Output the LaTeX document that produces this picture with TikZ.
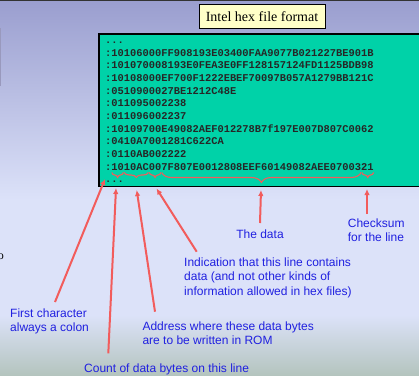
\documentclass[tikz,border=0pt]{standalone}
\usepackage{fontspec}
\setmainfont{Liberation Serif}
\setsansfont{Liberation Sans}
\setmonofont{Liberation Mono}
\usetikzlibrary{arrows.meta, decorations.pathreplacing}

\definecolor{bgtop}{HTML}{9A9ECF}
\definecolor{bgmid}{HTML}{DCE2F9}
\definecolor{bgbot}{HTML}{B4C4BE}
\definecolor{hexgreen}{HTML}{00D2A8}
\definecolor{titlefill}{HTML}{FFFFC8}
\definecolor{arrowred}{HTML}{F25C5C}
\definecolor{noteblue}{HTML}{2020E0}

\newcommand{\hexfont}{\ttfamily\bfseries\fontsize{10.4}{12.67}\selectfont}
\newcommand{\notefont}{\sffamily\fontsize{12}{14.5}\selectfont}

\tikzset{
  hexline/.style={anchor=base west, inner sep=0pt, font=\hexfont, text=black!85},
  note/.style={anchor=north west, inner sep=0pt, align=left, font=\notefont, text=noteblue},
  pointer/.style={-{Latex[length=6pt,width=5.5pt]}, line width=2pt, draw=arrowred},
  bracket/.style={decorate, decoration={brace, mirror, amplitude=#1}, line width=1.1pt, draw=arrowred},
  bracket/.default=5pt,
}

\begin{document}
\begin{tikzpicture}[x=1pt, y=-1pt]
      \useasboundingbox (0,0) rectangle (419,375);
      \shade[top color=bgtop, bottom color=bgmid] (0,0) rectangle (419,200);
      \fill[bgmid] (0,200) rectangle (419,315);
      \shade[top color=bgmid, bottom color=bgbot] (0,315) rectangle (419,375);
      \draw[line width=1pt, black!80] (0,0.5) -- (419,0.5);
      \draw[line width=1.6pt, draw=black!65!blue!40] (0.6,28) -- (0.6,86);
      \node[anchor=base east, inner sep=0pt, font=\fontsize{12}{14}\selectfont] (frag) at (4,259) {o};

      \node[draw, fill=hexgreen, line width=1.2pt, anchor=north west, inner sep=0pt,
            minimum width=330pt, minimum height=152.7pt] (hexbox) at (98.3,33.3) {};
      \node[draw, fill=titlefill, line width=0.8pt, inner sep=0pt, minimum width=126pt,
            minimum height=24pt, font=\fontsize{14}{16}\selectfont] (title) at (262,16.3) {Intel hex file format};

      \node[hexline] (l0) at (105,43.3) {...};
      \node[hexline] (l1) at (105,56) {:10106000FF908193E03400FAA9077B021227BE901B};
      \node[hexline] (l2) at (105,68.7) {:101070008193E0FEA3E0FF128157124FD1125BDB98};
      \node[hexline] (l3) at (105,81.3) {:10108000EF700F1222EBEF70097B057A1279BB121C};
      \node[hexline] (l4) at (105,94) {:0510900027BE1212C48E};
      \node[hexline] (l5) at (105,106.7) {:011095002238};
      \node[hexline] (l6) at (105,119.3) {:011096002237};
      \node[hexline] (l7) at (105,132) {:10109700E49082AEF012278B7f197E007D807C0062};
      \node[hexline] (l8) at (105,144.7) {:0410A7001281C622CA};
      \node[hexline] (l9) at (105,157.3) {:0110AB002222};
      \node[hexline] (l10) at (105,170) {:1010AC007F807E0012808EEF60149082AEE0700321};
      \node[hexline] (l11) at (105,182.7) {...};

      \draw[bracket] (111.8,172.5) -- (123.4,172.5);
      \draw[bracket] (124.2,172.5) -- (148.4,172.5);
      \draw[bracket] (149.2,172.5) -- (160.9,172.5);
      \draw[bracket=10pt] (161.7,172.5) -- (361.1,172.5);
      \draw[bracket] (361.9,172.5) -- (373.6,172.5);

      \coordinate (colonTip) at (105,179);
      \coordinate (countTip) at (116,188);
      \coordinate (addrTip) at (136.7,190);
      \coordinate (typeTip) at (156.5,188.5);
      \coordinate (dataTip) at (261,190);
      \coordinate (sumTip) at (367,189);

      \node[note, anchor=north] (data) at (260,229.8) {The data};
      \node[note] (sum) at (347.7,218.3) {Checksum\\for the line};
      \node[note] (kind) at (184,257.3) {Indication that this line contains\\data (and not other kinds of\\information allowed in hex files)};
      \node[note] (addr) at (142.3,321.3) {Address where these data bytes\\are to be written in ROM};
      \node[note] (first) at (10,308.3) {First character\\always a colon};
      \node[note] (count) at (84,364) {Count of data bytes on this line};

      \draw[pointer] ([yshift=6.8pt]data.north) -- (dataTip);
      \draw[pointer] ([xshift=19.3pt,yshift=4.3pt]sum.north west) -- (sumTip);
      \draw[pointer] ([xshift=12.7pt,yshift=5.6pt]kind.north west) -- (typeTip);
      \draw[pointer] ([xshift=12.7pt,yshift=9.6pt]addr.north west) -- (addrTip);
      \draw[pointer] ([xshift=45pt,yshift=6.3pt]first.north west) -- (colonTip);
      \draw[pointer] ([xshift=24.3pt,yshift=10.7pt]count.north west) -- (countTip);
    \end{tikzpicture}
\end{document}
